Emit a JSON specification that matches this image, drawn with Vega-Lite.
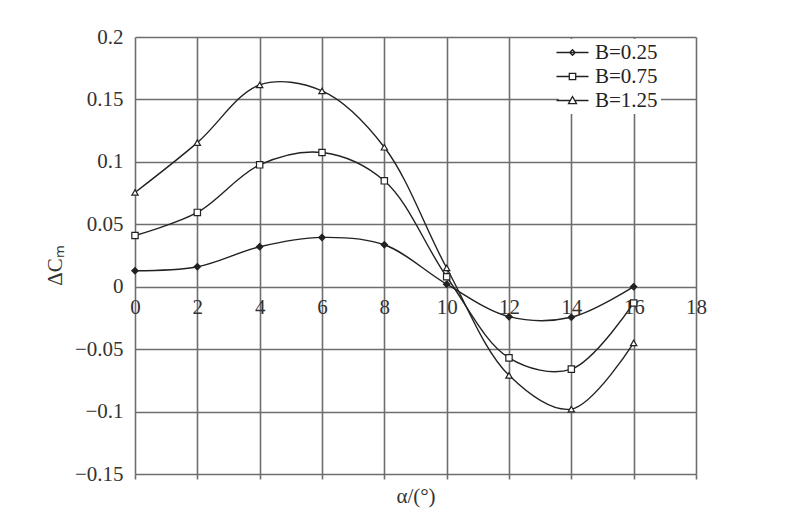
{
  "$schema": "https://vega.github.io/schema/vega-lite/v6.json",
  "width": 561,
  "height": 437,
  "autosize": {"type": "none"},
  "padding": {"left": 135, "top": 37, "right": 104, "bottom": 53},
  "background": "white",
  "config": {
    "view": {"stroke": null},
    "font": "Liberation Serif",
    "axis": {
      "labelFont": "Liberation Serif",
      "labelFontSize": 21,
      "labelColor": "#333",
      "titleFont": "Liberation Serif",
      "titleFontSize": 21,
      "titleFontWeight": "normal",
      "titleColor": "#333",
      "gridColor": "#6e6e6e",
      "gridWidth": 1.6,
      "gridOpacity": 1,
      "domain": false
    }
  },
  "data": {
    "values": [
      {"a": 0, "dc": 0.0128, "B": "B=0.25"},
      {"a": 2, "dc": 0.016, "B": "B=0.25"},
      {"a": 4, "dc": 0.032, "B": "B=0.25"},
      {"a": 6, "dc": 0.0395, "B": "B=0.25"},
      {"a": 8, "dc": 0.0336, "B": "B=0.25"},
      {"a": 10, "dc": 0.002, "B": "B=0.25"},
      {"a": 12, "dc": -0.024, "B": "B=0.25"},
      {"a": 14, "dc": -0.0245, "B": "B=0.25"},
      {"a": 16, "dc": 0.0, "B": "B=0.25"},
      {"a": 0, "dc": 0.041, "B": "B=0.75"},
      {"a": 2, "dc": 0.0595, "B": "B=0.75"},
      {"a": 4, "dc": 0.0976, "B": "B=0.75"},
      {"a": 6, "dc": 0.1075, "B": "B=0.75"},
      {"a": 8, "dc": 0.0848, "B": "B=0.75"},
      {"a": 10, "dc": 0.008, "B": "B=0.75"},
      {"a": 12, "dc": -0.057, "B": "B=0.75"},
      {"a": 14, "dc": -0.066, "B": "B=0.75"},
      {"a": 16, "dc": -0.013, "B": "B=0.75"},
      {"a": 0, "dc": 0.0755, "B": "B=1.25"},
      {"a": 2, "dc": 0.1154, "B": "B=1.25"},
      {"a": 4, "dc": 0.1616, "B": "B=1.25"},
      {"a": 6, "dc": 0.1568, "B": "B=1.25"},
      {"a": 8, "dc": 0.1117, "B": "B=1.25"},
      {"a": 10, "dc": 0.015, "B": "B=1.25"},
      {"a": 12, "dc": -0.071, "B": "B=1.25"},
      {"a": 14, "dc": -0.098, "B": "B=1.25"},
      {"a": 16, "dc": -0.045, "B": "B=1.25"}
    ]
  },
  "resolve": {"scale": {"shape": "independent"}, "axis": {"x": "independent"}},
  "layer": [
    {
      "mark": {"type": "line", "interpolate": "catmull-rom", "color": "#222", "strokeWidth": 1.4},
      "encoding": {
        "x": {
          "field": "a", "type": "quantitative",
          "scale": {"domain": [0, 18], "nice": false, "zero": false},
          "axis": {
            "orient": "bottom",
            "values": [0, 2, 4, 6, 8, 10, 12, 14, 16, 18],
            "labels": false,
            "ticks": true,
            "tickSize": 5,
            "tickColor": "#6e6e6e",
            "tickWidth": 1.6,
            "grid": true,
            "title": "α/(°)",
            "titlePadding": 6
          }
        },
        "y": {
          "field": "dc", "type": "quantitative",
          "scale": {"domain": [-0.15, 0.2], "nice": false, "zero": false},
          "axis": {
            "values": [-0.15, -0.1, -0.05, 0, 0.05, 0.1, 0.15, 0.2],
            "format": "~g",
            "ticks": false,
            "labelPadding": 12,
            "grid": true,
            "title": "ΔCₘ",
            "titleX": -70,
            "titleY": 228
          }
        },
        "detail": {"field": "B", "type": "nominal"}
      }
    },
    {
      "mark": {"type": "point", "filled": true, "stroke": "#222", "strokeWidth": 1.2, "opacity": 1, "size": 40},
      "encoding": {
        "x": {
          "field": "a", "type": "quantitative",
          "axis": {
            "orient": "bottom",
            "offset": -187.3,
            "values": [0, 2, 4, 6, 8, 10, 12, 14, 16, 18],
            "format": "d",
            "labelPadding": 10,
            "labelFlush": false,
            "ticks": false,
            "grid": false,
            "title": null
          }
        },
        "y": {"field": "dc", "type": "quantitative"},
        "shape": {
          "field": "B", "type": "nominal",
          "scale": {"domain": ["B=0.25", "B=0.75", "B=1.25"], "range": ["diamond", "square", "triangle-up"]},
          "legend": null
        },
        "fill": {
          "field": "B", "type": "nominal",
          "scale": {"domain": ["B=0.25", "B=0.75", "B=1.25"], "range": ["#222", "white", "white"]},
          "legend": null
        }
      }
    },
    {
      "transform": [{"filter": "datum.a > 100"}],
      "mark": {"type": "point", "filled": false},
      "encoding": {
        "x": {"field": "a", "type": "quantitative", "axis": null},
        "y": {"field": "dc", "type": "quantitative"},
        "shape": {
          "field": "B", "type": "nominal",
          "scale": {
            "domain": ["B=0.25", "B=0.75", "B=1.25"],
            "range": [
              "M-2,0H2M0,-0.35L0.35,0L0,0.35L-0.35,0Z",
              "M-2,0H-0.4M0.4,0H2M-0.4,-0.4H0.4V0.4H-0.4Z",
              "M-2,0H-0.3M0.3,0H2M0,-0.5L0.5,0.4H-0.5Z"
            ]
          },
          "legend": {
            "orient": "none",
            "legendX": 424,
            "legendY": 2,
            "title": null,
            "symbolSize": 256,
            "symbolFillColor": "white",
            "symbolStrokeColor": "#222",
            "symbolStrokeWidth": 1.3,
            "symbolOpacity": 1,
            "labelFont": "Liberation Serif",
            "labelFontSize": 21,
            "labelColor": "#222",
            "labelOffset": 12,
            "fillColor": "white",
            "padding": 3,
            "rowPadding": 2
          }
        }
      }
    }
  ]
}
